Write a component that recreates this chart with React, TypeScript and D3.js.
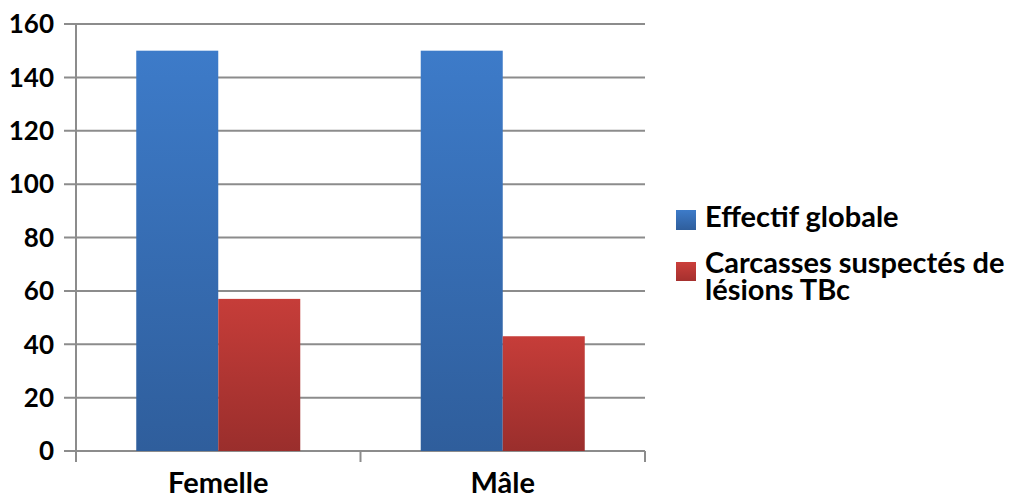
import React from "react";
import * as d3 from "d3";

const categories = ["Femelle", "Mâle"];
const seriesNames = ["Effectif globale", "Carcasses suspectés de lésions TBc"];
const effectifGlobale = [150, 150];
const carcassesSuspectes = [57, 43];
const yTicks = [0, 20, 40, 60, 80, 100, 120, 140, 160];

const W = 1014;
const H = 498;
const left = 76;
const right = 645;
const top = 24;
const bottom = 451;
const FONT = "Lato, Carlito, 'DejaVu Sans', sans-serif";

export default function App() {
  const x0 = d3
    .scaleBand<string>()
    .domain(categories)
    .range([left, right])
    .paddingInner(0.4235)
    .paddingOuter(0.2118);
  const x1 = d3
    .scaleBand<string>()
    .domain(["a", "b"])
    .range([0, x0.bandwidth()]);
  const y = d3.scaleLinear().domain([0, 160]).range([bottom, top]);
  const series = [
    { key: "a", values: effectifGlobale, fill: "url(#gBlue)" },
    { key: "b", values: carcassesSuspectes, fill: "url(#gRed)" },
  ];
  const vTicks = [
    left,
    ...categories.map((c) => x0(c)! + x0.bandwidth() / 2 + x0.step() / 2),
  ];
  return (
    <svg
      width={W}
      height={H}
      style={{ position: "absolute", left: 0, top: 0, background: "#fff" }}
    >
      <defs>
        <linearGradient id="gBlue" x1="0" y1="0" x2="0" y2="1">
          <stop offset="0" stopColor="#3D7BC9" />
          <stop offset="1" stopColor="#2F5E9C" />
        </linearGradient>
        <linearGradient id="gRed" x1="0" y1="0" x2="0" y2="1">
          <stop offset="0" stopColor="#C63D39" />
          <stop offset="1" stopColor="#9A2E2C" />
        </linearGradient>
        <linearGradient id="lBlue" x1="0" y1="0" x2="0" y2="1">
          <stop offset="0" stopColor="#3D7BC9" />
          <stop offset="1" stopColor="#2F5E9C" />
        </linearGradient>
        <linearGradient id="lRed" x1="0" y1="0" x2="0" y2="1">
          <stop offset="0" stopColor="#CB3F3B" />
          <stop offset="1" stopColor="#A5302E" />
        </linearGradient>
      </defs>
      {yTicks.map((t) => (
        <line
          key={t}
          x1={64}
          x2={right}
          y1={y(t)}
          y2={y(t)}
          stroke="#8C8C8C"
          strokeWidth={2}
        />
      ))}
      {vTicks.map((vx, i) => (
        <line
          key={i}
          x1={vx}
          x2={vx}
          y1={bottom}
          y2={bottom + 11}
          stroke="#8C8C8C"
          strokeWidth={2}
        />
      ))}
      {categories.map((c, ci) =>
        series.map((s) => (
          <rect
            key={c + s.key}
            x={x0(c)! + x1(s.key)!}
            width={x1.bandwidth()}
            y={y(s.values[ci])}
            height={bottom - y(s.values[ci])}
            fill={s.fill}
          />
        ))
      )}
      <line x1={left} x2={left} y1={top} y2={bottom + 11} stroke="#8C8C8C" strokeWidth={2} />
      {yTicks.map((t) => (
        <text
          key={t}
          x={54}
          y={y(t)}
          dy="0.36em"
          textAnchor="end"
          fontFamily={FONT}
          fontWeight="bold"
          fontSize={26}
          fill="#000"
        >
          {t}
        </text>
      ))}
      {categories.map((c) => (
        <text
          key={c}
          x={x0(c)! + x0.bandwidth() / 2}
          y={493}
          textAnchor="middle"
          fontFamily={FONT}
          fontWeight="bold"
          fontSize={29}
          fill="#000"
        >
          {c}
        </text>
      ))}
      <rect x={676} y={210} width={20} height={20} fill="url(#lBlue)" />
      <text x={705} y={227} fontFamily={FONT} fontWeight="bold" fontSize={29} fill="#000">
        {seriesNames[0]}
      </text>
      <rect x={676} y={262} width={20} height={19} fill="url(#lRed)" />
      <text x={705} y={273} fontFamily={FONT} fontWeight="bold" fontSize={29} fill="#000">
        <tspan x={705}>Carcasses suspectés de</tspan>
        <tspan x={705} dy={27}>lésions TBc</tspan>
      </text>
    </svg>
  );
}
